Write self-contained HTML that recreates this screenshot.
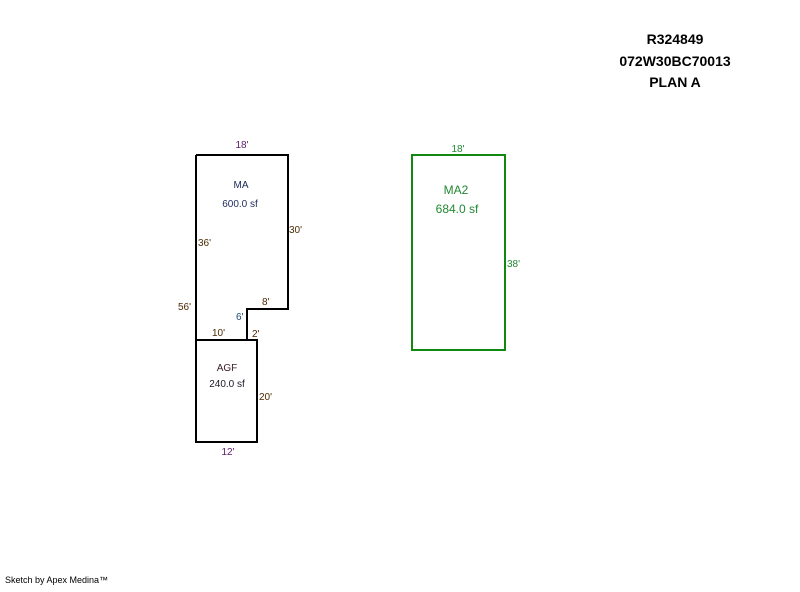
<!DOCTYPE html>
<html><head><meta charset="utf-8"><style>
body{margin:0;background:#fff;width:800px;height:587px;overflow:hidden}
svg text{font-family:"Liberation Sans",Arial,sans-serif}
</style></head><body>
<svg width="800" height="587" viewBox="0 0 800 587" xmlns="http://www.w3.org/2000/svg">
<g font-weight="bold" font-size="14" text-anchor="middle" fill="#000">
<text x="675" y="44">R324849</text>
<text x="675" y="66">072W30BC70013</text>
<text x="675" y="87">PLAN A</text>
</g>
<g fill="none" stroke="#000" stroke-width="2">
<path d="M196 155 H288 V309 H247 V340"/>
<path d="M196 155 V442 H257 V340 H196"/>
</g>
<rect x="412" y="155" width="93" height="195" fill="none" stroke="#118811" stroke-width="2"/>
<g font-size="10">
<text x="242" y="148" text-anchor="middle" fill="#5a1a6a">18'</text>
<text x="241" y="188" text-anchor="middle" fill="#1a2a5a">MA</text>
<text x="240" y="207" text-anchor="middle" fill="#1a2a5a">600.0 sf</text>
<text x="289" y="233" fill="#4a2a00">30'</text>
<text x="198" y="246" fill="#4a2a00">36'</text>
<text x="178" y="310" fill="#4a2a00">56'</text>
<text x="262" y="305" fill="#4a2a00">8'</text>
<text x="236" y="320" fill="#1a4a7a">6'</text>
<text x="212" y="336" fill="#4a2a00">10'</text>
<text x="252" y="337" fill="#4a2a00">2'</text>
<text x="227" y="371" text-anchor="middle" fill="#3a1a2a">AGF</text>
<text x="227" y="387" text-anchor="middle" fill="#1a1a2a">240.0 sf</text>
<text x="259" y="400" fill="#4a2a00">20'</text>
<text x="228" y="455" text-anchor="middle" fill="#5a1a6a">12'</text>
<text x="458" y="152" text-anchor="middle" fill="#228833">18'</text>
<text x="507" y="267" fill="#228833">38'</text>
<text x="5" y="583" font-size="9" fill="#000">Sketch by Apex Medina™</text>
</g>
<g font-size="12" text-anchor="middle" fill="#228833">
<text x="456" y="194">MA2</text>
<text x="457" y="213">684.0 sf</text>
</g>
</svg>
</body></html>
